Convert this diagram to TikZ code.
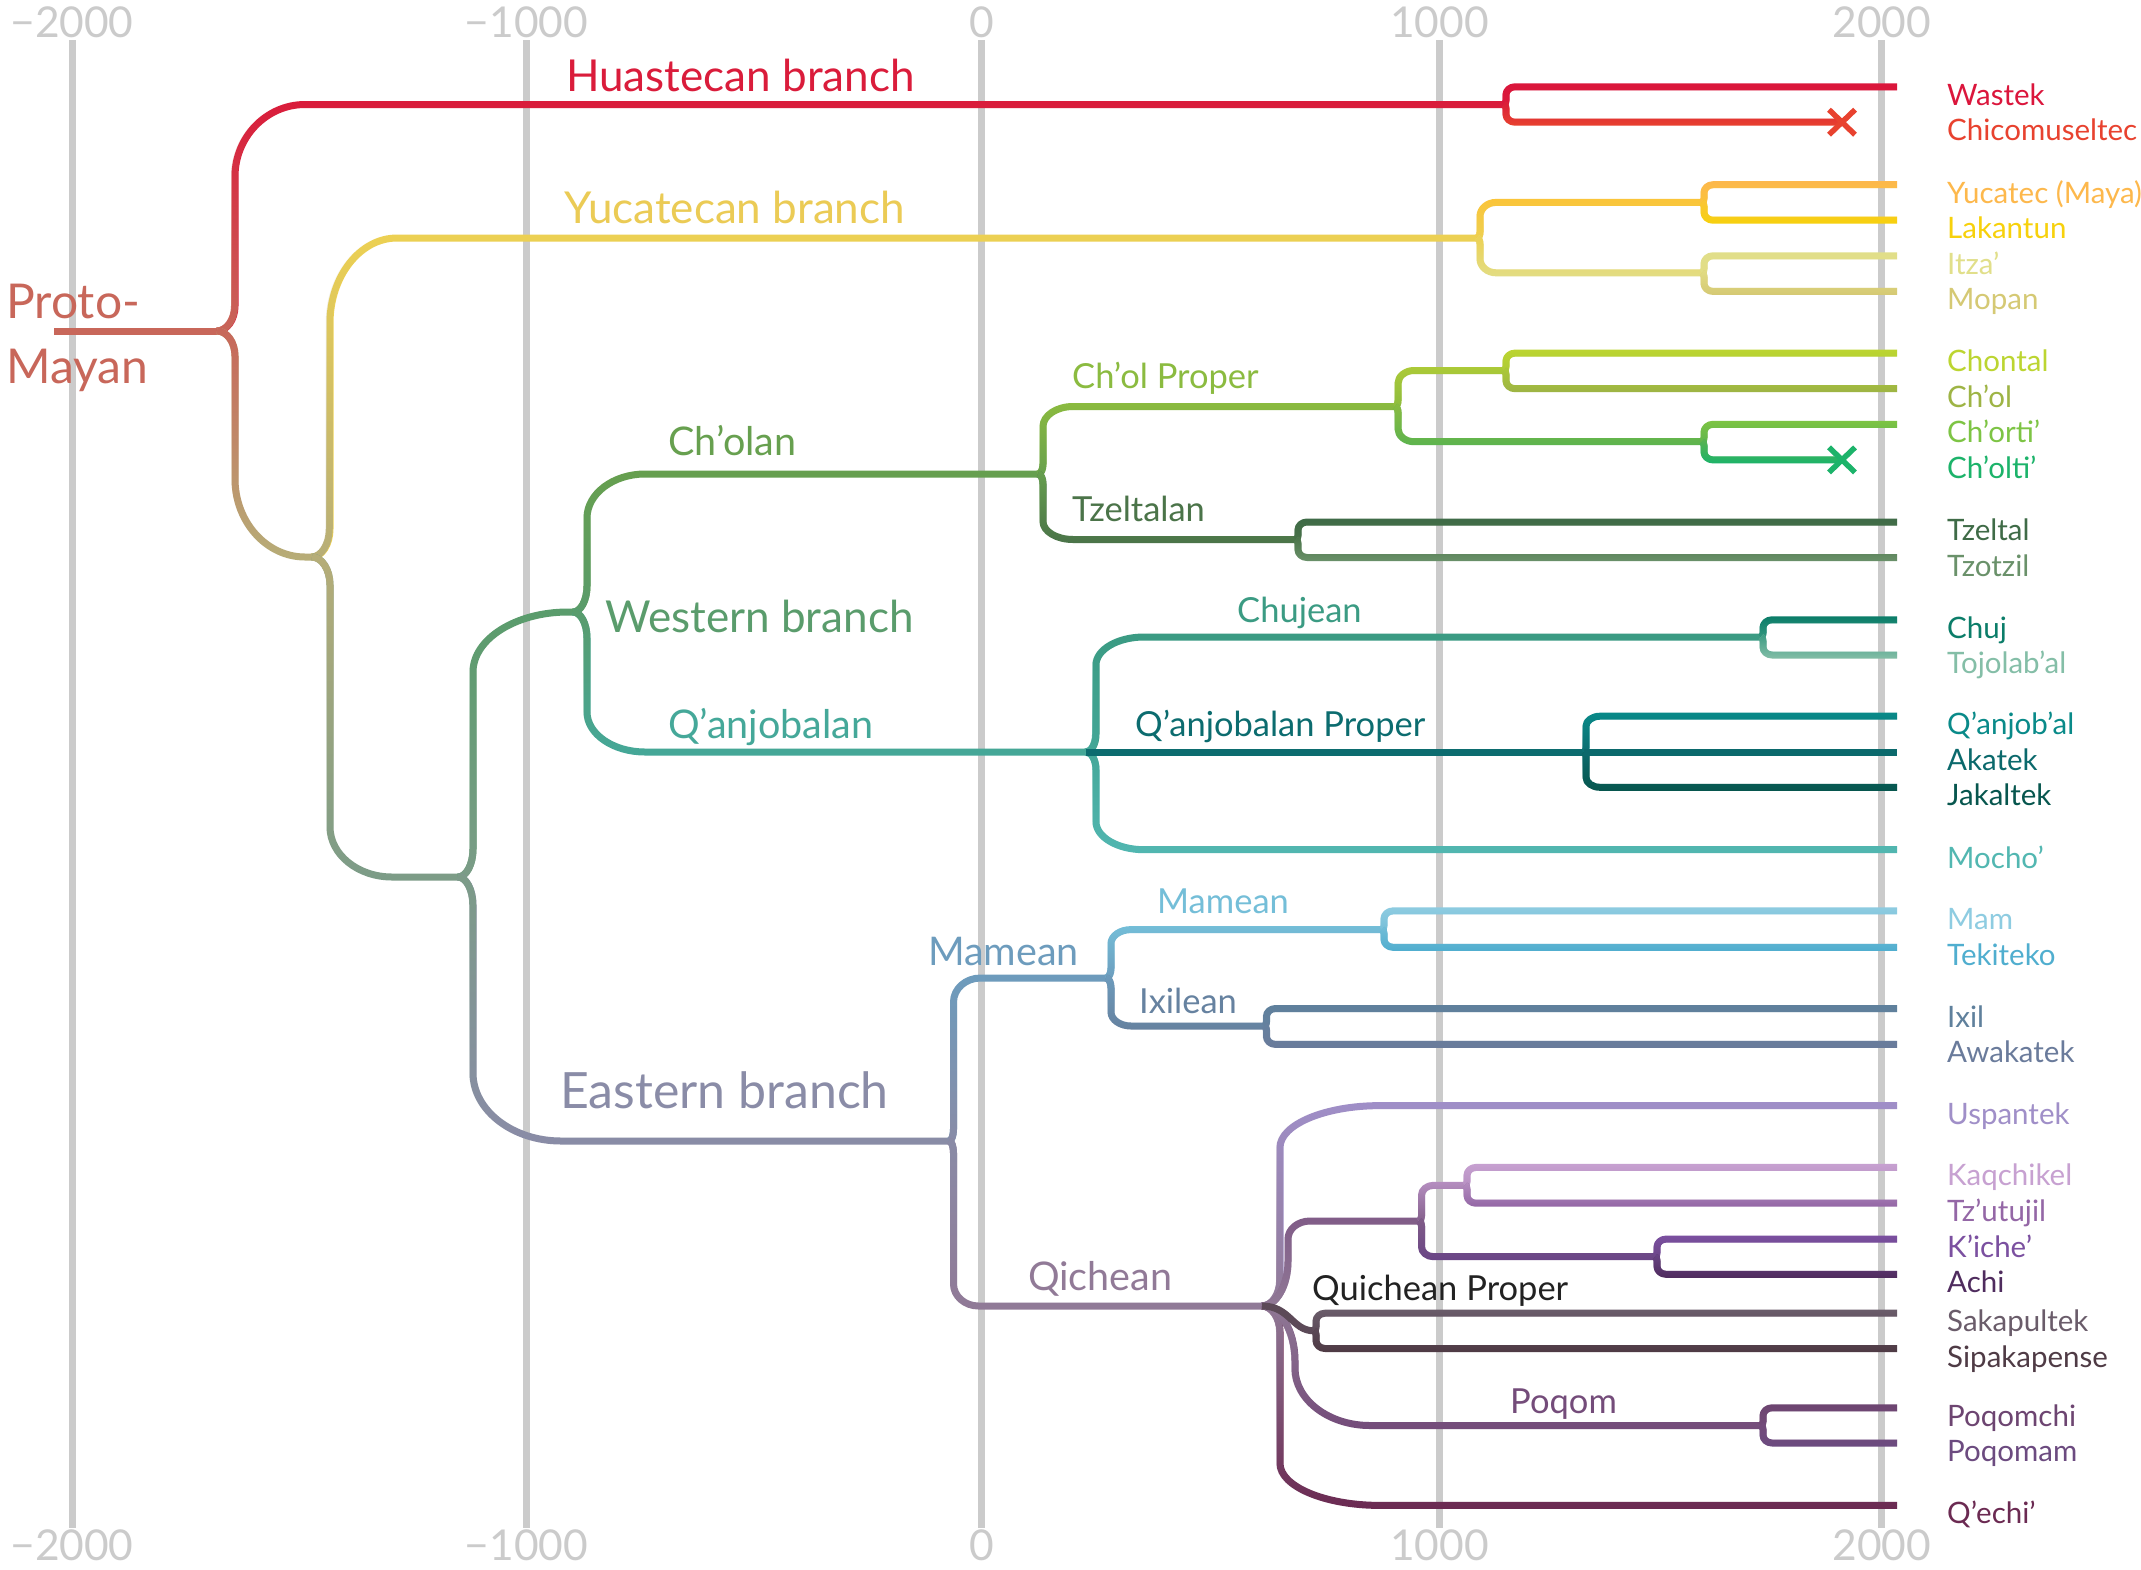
\documentclass[tikz,border=0pt]{standalone}
\usepackage{fontspec}
\setmainfont{Lato}
\usetikzlibrary{calc,fadings}
\definecolor{gridc}{HTML}{CBCBCB}
\definecolor{protoc}{HTML}{C8675A}
\definecolor{huasc}{HTML}{DA1C3B}
\definecolor{wastekc}{HTML}{DB163C}
\definecolor{chicomc}{HTML}{E8422F}
\definecolor{yucc}{HTML}{EDD153}
\definecolor{yuclab}{HTML}{EBCB55}
\definecolor{ylc}{HTML}{FBC53A}
\definecolor{yucatecc}{HTML}{FDB84C}
\definecolor{lakc}{HTML}{F7D10C}
\definecolor{imc}{HTML}{E3DD84}
\definecolor{itzac}{HTML}{E1DF8A}
\definecolor{mopanc}{HTML}{D5C974}
\definecolor{acol}{HTML}{B7AE78}
\definecolor{wecol}{HTML}{7C9C88}
\definecolor{cholanc}{HTML}{67A04F}
\definecolor{cpc}{HTML}{8BBB40}
\definecolor{ccc}{HTML}{ACCA38}
\definecolor{chontalc}{HTML}{BCD531}
\definecolor{cholc}{HTML}{9EB445}
\definecolor{coc}{HTML}{5DB44F}
\definecolor{chortic}{HTML}{7DC444}
\definecolor{choltic}{HTML}{1CB36A}
\definecolor{tzltnc}{HTML}{4B7449}
\definecolor{tzeltalc}{HTML}{3F6B47}
\definecolor{tzotzilc}{HTML}{6A916A}
\definecolor{westc}{HTML}{5A9C6C}
\definecolor{qanc}{HTML}{45A899}
\definecolor{chujnc}{HTML}{3B9B83}
\definecolor{chujc}{HTML}{0B7D69}
\definecolor{tojoc}{HTML}{84BEA7}
\definecolor{qpc}{HTML}{0C6C6F}
\definecolor{qanjc}{HTML}{098A89}
\definecolor{akac}{HTML}{0B696C}
\definecolor{jakc}{HTML}{07564E}
\definecolor{mochoc}{HTML}{52B7B1}
\definecolor{eastc}{HTML}{8A8CA7}
\definecolor{mambigc}{HTML}{6D9CBD}
\definecolor{mamsc}{HTML}{74BED8}
\definecolor{mamc}{HTML}{8ECCE1}
\definecolor{tekc}{HTML}{50AECF}
\definecolor{ixlc}{HTML}{6682A0}
\definecolor{ixilc}{HTML}{5F809C}
\definecolor{awakc}{HTML}{6A7B9B}
\definecolor{qichc}{HTML}{917A97}
\definecolor{uspc}{HTML}{A08FC8}
\definecolor{kgc}{HTML}{815D88}
\definecolor{ktc}{HTML}{B58EC0}
\definecolor{kaqc}{HTML}{C7A1D1}
\definecolor{tzutc}{HTML}{9467A6}
\definecolor{kac}{HTML}{6A4586}
\definecolor{kichec}{HTML}{7B50A0}
\definecolor{achic}{HTML}{4F2C5E}
\definecolor{ssc}{HTML}{5C4A58}
\definecolor{sakc}{HTML}{6A5C6A}
\definecolor{sipc}{HTML}{4F3B45}
\definecolor{poqc}{HTML}{744C7A}
\definecolor{poqchc}{HTML}{6D4571}
\definecolor{poqmc}{HTML}{6C4B80}
\definecolor{qechic}{HTML}{6B2A52}
\definecolor{quipc}{HTML}{222222}
\tikzfading[name=fup, top color=transparent!100, bottom color=transparent!0]
\tikzfading[name=fdn, top color=transparent!0, bottom color=transparent!100]
\tikzset{
  br/.style={line width=7pt, line join=round},
  gridline/.style={line width=7pt, draw=gridc},
  axlab/.style={anchor=base, inner sep=0pt, text=gridc, font=\fontsize{42.5}{42.5}\selectfont},
  leaf/.style={anchor=base west, inner sep=0pt, font=\fontsize{29.5}{29.5}\selectfont},
  lbig/.style={anchor=base west, inner sep=0pt, font=\fontsize{44}{44}\selectfont},
  lmed/.style={anchor=base west, inner sep=0pt, font=\fontsize{39.5}{39.5}\selectfont},
  lsm/.style={anchor=base west, inner sep=0pt, font=\fontsize{34.5}{34.5}\selectfont},
  xm/.style={line width=5.5pt},
  arm/.style n args={4}{to path={
    let \p1=(\tikztostart), \p2=(\tikztotarget), \n1={ifthenelse(\y2>\y1,1,-1)} in
    (\p1) .. controls ({\x1+0.55*#1pt},{\y1}) and ({\x1+#1pt},{\y1+(\n1)*(#2pt)*0.45}) .. ({\x1+#1pt},{\y1+(\n1)*(#2pt)})
    -- ({\x1+#1pt},{\y2-(\n1)*(#4pt)})
    .. controls ({\x1+#1pt},{\y2-(\n1)*(#4pt)*0.45}) and ({\x1+#1pt+0.45*#3pt},{\y2}) .. ({\x1+#1pt+#3pt},{\y2})
    -- (\p2)}}
}
% parent colour, child colour, fading, arm arguments, from, to
\newcommand\garm[6]{%
  \draw[br,draw=#2] (#5) to[arm=#4] (#6);
  \draw[br,draw=#1,path fading=#3] (#5) to[arm=#4] (#6);}
\newcommand\leaf[5]{%
  \coordinate (#1-e) at (#5,#2);
  \node[leaf,text=#3] (#1) at (1947,#2+18.5) {#4};}
\begin{document}
\begin{tikzpicture}[x=1pt,y=-1pt]
\useasboundingbox (0,0) rectangle (2141,1569);
\fill[white] (0,0) rectangle (2141,1569);
% grid and axis labels
\foreach \gx/\lab [count=\i] in {72/−2000,526.5/−1000,981.6/0,1439.5/1000,1881.7/2000}{
  \draw[gridline] (\gx,40) -- (\gx,1528);
  \node[axlab] (top\i) at (\gx,37.6) {\lab};
  \node[axlab] (bot\i) at (\gx,1560) {\lab};
}
% leaves
\leaf{wastek}{86.8}{wastekc}{Wastek}{1897}
\leaf{chicom}{122.2}{chicomc}{Chicomuseltec}{1842}
\leaf{yucatec}{184.7}{yucatecc}{Yucatec (Maya)}{1897}
\leaf{lakantun}{220.2}{lakc}{Lakantun}{1897}
\leaf{itza}{255.8}{itzac}{Itza’}{1897}
\leaf{mopan}{291.4}{mopanc}{Mopan}{1897}
\leaf{chontal}{353.1}{chontalc}{Chontal}{1897}
\leaf{chol}{388.7}{cholc}{Ch’ol}{1897}
\leaf{chorti}{424.3}{chortic}{Ch’orti’}{1897}
\leaf{cholti}{459.9}{choltic}{Ch’olti’}{1842}
\leaf{tzeltal}{522}{tzeltalc}{Tzeltal}{1897}
\leaf{tzotzil}{557.5}{tzotzilc}{Tzotzil}{1897}
\leaf{chuj}{619.8}{chujc}{Chuj}{1897}
\leaf{tojo}{655}{tojoc}{Tojolab’al}{1897}
\leaf{qanjob}{716.2}{qanjc}{Q’anjob’al}{1897}
\leaf{akatek}{752}{akac}{Akatek}{1897}
\leaf{jakal}{787.3}{jakc}{Jakaltek}{1897}
\leaf{mocho}{849.7}{mochoc}{Mocho’}{1897}
\leaf{mam}{910.9}{mamc}{Mam}{1897}
\leaf{tek}{947.3}{tekc}{Tekiteko}{1897}
\leaf{ixil}{1008.5}{ixilc}{Ixil}{1897}
\leaf{awak}{1044.4}{awakc}{Awakatek}{1897}
\leaf{uspan}{1105.6}{uspc}{Uspantek}{1897}
\leaf{kaq}{1167.4}{kaqc}{Kaqchikel}{1897}
\leaf{tzutu}{1203.2}{tzutc}{Tz’utujil}{1897}
\leaf{kiche}{1239.1}{kichec}{K’iche’}{1897}
\leaf{achi}{1274.3}{achic}{Achi}{1897}
\leaf{sakap}{1313.2}{sakc}{Sakapultek}{1897}
\leaf{sipak}{1348.5}{sipc}{Sipakapense}{1897}
\leaf{poqchi}{1407.8}{poqchc}{Poqomchi}{1897}
\leaf{poqmam}{1443}{poqmc}{Poqomam}{1897}
\leaf{qechi}{1505.4}{qechic}{Q’echi’}{1897}
% junctions
\coordinate (rootst) at (54,331);
\coordinate (root) at (217,331);
\coordinate (H) at (1504,104.5);
\coordinate (A) at (312,557);
\coordinate (Y) at (1477,238);
\coordinate (YL) at (1702,202.4);
\coordinate (IM) at (1702,272.8);
\coordinate (WE) at (458,877);
\coordinate (W) at (573,612);
\coordinate (C) at (1038,474);
\coordinate (CP) at (1395,406.5);
\coordinate (CC) at (1504,370.5);
\coordinate (CO) at (1702,441.7);
\coordinate (T) at (1296,539.5);
\coordinate (Q) at (1086,752);
\coordinate (CJ) at (1761,637);
\coordinate (QP) at (1584,752);
\coordinate (E) at (949,1141);
\coordinate (M) at (1106,978);
\coordinate (MS) at (1382,929.6);
\coordinate (IX) at (1264.5,1026);
\coordinate (QI) at (1262,1306);
\coordinate (K) at (1419,1221);
\coordinate (KT) at (1465,1185.3);
\coordinate (KA) at (1655,1256.7);
\coordinate (SS) at (1314,1330.8);
\coordinate (PQ) at (1761,1425.5);
% branches
\draw[br,draw=protoc] (rootst) -- (root);
\garm{protoc}{huasc}{fup}{{18}{25}{70}{72}}{root}{H}
\garm{protoc}{acol}{fdn}{{18}{25}{70}{78}}{root}{A}
\garm{huasc}{wastekc}{fup}{{2}{4}{9}{8}}{H}{wastek-e}
\garm{huasc}{chicomc}{fdn}{{2}{4}{9}{8}}{H}{chicom-e}
\draw[xm,draw=chicomc] (chicom-e) +(-13,-12.5) -- +(13,12.5) +(-13,12.5) -- +(13,-12.5);
\garm{acol}{yucc}{fup}{{18}{28}{67}{85}}{A}{Y}
\garm{acol}{wecol}{fdn}{{18}{28}{62}{50}}{A}{WE}
\garm{yucc}{ylc}{fup}{{3}{6}{16}{14}}{Y}{YL}
\garm{yucc}{imc}{fdn}{{3}{6}{16}{14}}{Y}{IM}
\garm{ylc}{yucatecc}{fup}{{2}{4}{9}{8}}{YL}{yucatec-e}
\garm{ylc}{lakc}{fdn}{{2}{4}{9}{8}}{YL}{lakantun-e}
\garm{imc}{itzac}{fup}{{2}{4}{9}{8}}{IM}{itza-e}
\garm{imc}{mopanc}{fdn}{{2}{4}{9}{8}}{IM}{mopan-e}
\garm{wecol}{westc}{fup}{{15}{28}{95}{60}}{WE}{W}
\garm{wecol}{eastc}{fdn}{{15}{28}{88}{68}}{WE}{E}
\garm{westc}{cholanc}{fup}{{14}{26}{58}{44}}{W}{C}
\garm{westc}{qanc}{fdn}{{14}{26}{58}{40}}{W}{Q}
\garm{cholanc}{cpc}{fup}{{5}{10}{30}{20}}{C}{CP}
\garm{cholanc}{tzltnc}{fdn}{{5}{10}{30}{18}}{C}{T}
\garm{cpc}{ccc}{fup}{{3}{6}{16}{13}}{CP}{CC}
\garm{cpc}{coc}{fdn}{{3}{6}{16}{13}}{CP}{CO}
\garm{ccc}{chontalc}{fup}{{2}{4}{9}{8}}{CC}{chontal-e}
\garm{ccc}{cholc}{fdn}{{2}{4}{9}{8}}{CC}{chol-e}
\garm{coc}{chortic}{fup}{{2}{4}{9}{8}}{CO}{chorti-e}
\garm{coc}{choltic}{fdn}{{2}{4}{9}{8}}{CO}{cholti-e}
\draw[xm,draw=choltic] (cholti-e) +(-13,-12.5) -- +(13,12.5) +(-13,12.5) -- +(13,-12.5);
\garm{tzltnc}{tzeltalc}{fup}{{2}{4}{9}{8}}{T}{tzeltal-e}
\garm{tzltnc}{tzotzilc}{fdn}{{2}{4}{9}{8}}{T}{tzotzil-e}
\garm{qanc}{chujnc}{fup}{{10}{18}{48}{28}}{Q}{CJ}
\garm{qanc}{mochoc}{fdn}{{10}{18}{48}{28}}{Q}{mocho-e}
\draw[br,draw=qpc] (Q) -- (QP);
\garm{chujnc}{chujc}{fup}{{2}{4}{9}{8}}{CJ}{chuj-e}
\garm{chujnc}{tojoc}{fdn}{{2}{4}{9}{8}}{CJ}{tojo-e}
\garm{qpc}{qanjc}{fup}{{2}{4}{14}{10}}{QP}{qanjob-e}
\garm{qpc}{jakc}{fdn}{{2}{4}{14}{10}}{QP}{jakal-e}
\draw[br,draw=akac] (QP) -- (akatek-e);
\garm{eastc}{mambigc}{fup}{{4.5}{12}{27}{24}}{E}{M}
\garm{eastc}{qichc}{fdn}{{4.5}{12}{25}{22}}{E}{QI}
\garm{mambigc}{mamsc}{fup}{{5}{10}{20}{14}}{M}{MS}
\garm{mambigc}{ixlc}{fdn}{{5}{10}{20}{14}}{M}{IX}
\garm{mamsc}{mamc}{fup}{{2}{4}{9}{8}}{MS}{mam-e}
\garm{mamsc}{tekc}{fdn}{{2}{4}{9}{8}}{MS}{tek-e}
\garm{ixlc}{ixilc}{fup}{{2}{4}{9}{8}}{IX}{ixil-e}
\garm{ixlc}{awakc}{fdn}{{2}{4}{9}{8}}{IX}{awak-e}
\garm{qichc}{uspc}{fup}{{18}{26}{100}{42}}{QI}{uspan-e}
\garm{qichc}{qechic}{fdn}{{18}{26}{100}{42}}{QI}{qechi-e}
\garm{qichc}{poqc}{fdn}{{33}{55}{75}{57}}{QI}{PQ}
\garm{qichc}{kgc}{fup}{{26}{45}{22}{18}}{QI}{K}
\draw[br,draw=ssc] (QI) .. controls +(28,0) and +(-22,0) .. (SS);
\garm{kgc}{ktc}{fup}{{2.5}{5}{12}{10}}{K}{KT}
\garm{kgc}{kac}{fdn}{{2.5}{5}{12}{10}}{K}{KA}
\garm{ktc}{kaqc}{fup}{{2}{4}{9}{8}}{KT}{kaq-e}
\garm{ktc}{tzutc}{fdn}{{2}{4}{9}{8}}{KT}{tzutu-e}
\garm{kac}{kichec}{fup}{{2}{4}{9}{8}}{KA}{kiche-e}
\garm{kac}{achic}{fdn}{{2}{4}{9}{8}}{KA}{achi-e}
\garm{ssc}{sakc}{fup}{{2}{4}{9}{8}}{SS}{sakap-e}
\garm{ssc}{sipc}{fdn}{{2}{4}{9}{8}}{SS}{sipak-e}
\garm{poqc}{poqchc}{fup}{{2}{4}{9}{8}}{PQ}{poqchi-e}
\garm{poqc}{poqmc}{fdn}{{2}{4}{9}{8}}{PQ}{poqmam-e}
% branch labels
\node[anchor=base west,inner sep=0pt,font=\fontsize{48}{48}\selectfont,text=protoc] (proto1) at (6,318) {Proto-};
\node[anchor=base west,inner sep=0pt,font=\fontsize{48}{48}\selectfont,text=protoc] (proto2) at (6,383.5) {Mayan};
\node[lbig,text=huasc] (lhuas) at (566,91) {Huastecan branch};
\node[lbig,text=yuclab] (lyuc) at (564,223.4) {Yucatecan branch};
\node[lmed,text=cholanc] (lcholan) at (668,455.7) {Ch’olan};
\node[lbig,text=westc] (lwest) at (605,632) {Western branch};
\node[lmed,text=qanc] (lqan) at (668,738) {Q’anjobalan};
\node[lsm,text=cpc] (lcp) at (1072,388.6) {Ch’ol Proper};
\node[lsm,text=tzltnc] (ltz) at (1072,521.4) {Tzeltalan};
\node[lsm,text=chujnc] (lchuj) at (1237,622.5) {Chujean};
\node[lsm,text=qpc] (lqp) at (1135,736.8) {Q’anjobalan Proper};
\node[lsm,text=mamsc] (lmams) at (1157,913.6) {Mamean};
\node[lmed,text=mambigc] (lmamb) at (928,965) {Mamean};
\node[lsm,text=ixlc] (lixl) at (1139,1013.6) {Ixilean};
\node[anchor=base west,inner sep=0pt,font=\fontsize{50}{50}\selectfont,text=eastc] (least) at (560,1108) {Eastern branch};
\node[lmed,text=qichc] (lqich) at (1028,1290) {Qichean};
\node[lsm,text=quipc] (lquip) at (1312,1300) {Quichean Proper};
\node[lsm,text=poqc] (lpoq) at (1510,1413) {Poqom};
\end{tikzpicture}
\end{document}
